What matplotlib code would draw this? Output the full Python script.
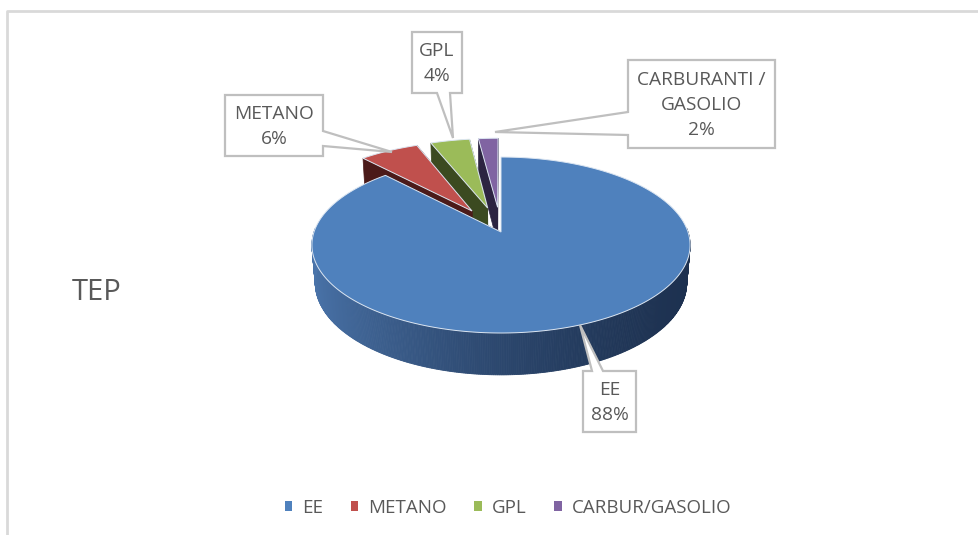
import numpy as np
import matplotlib
matplotlib.use("Agg")
import matplotlib.pyplot as plt
from matplotlib.patches import Polygon, Patch

# dati
labels = ["EE", "METANO", "GPL", "CARBUR/GASOLIO"]
label_names = ["EE", "METANO", "GPL", "CARBURANTI /\nGASOLIO"]
values = [88, 6, 4, 2]
explode = [0.0, 0.3, 0.3, 0.3]
top_colors = ["#4f81bd", "#c0504d", "#9bbb59", "#8064a2"]
side_colors = ["#1d3150", "#4b1a19", "#3b4a20", "#2c2441"]

plt.rcParams['font.family'] = ['Open Sans', 'DejaVu Sans']
txt_col = "#595959"

W, H = 979, 535
fig = plt.figure(figsize=(W / 100, H / 100), dpi=100)
ax = fig.add_axes([0, 0, 1, 1])
ax.set_xlim(0, W)
ax.set_ylim(H, 0)
ax.axis("off")

# cornice
ax.plot([7, 7, W + 5], [H + 5, 11, 11], color="#d9d9d9", lw=2, solid_capstyle="butt")

# proiezione prospettica della torta 3D
cx, cy, S = 501, 232, 187
phi = np.radians(27.4)
D = 6.0
h = 0.23
sphi, cphi = np.sin(phi), np.cos(phi)


def proj(X, Y, Z):
    X = np.asarray(X, float)
    Y = np.asarray(Y, float)
    depth = D + Y * cphi - Z * sphi
    sx = cx + S * X * D / depth
    sy = cy - S * (Y * sphi + Z * cphi) * D / depth
    return np.column_stack([np.atleast_1d(sx), np.atleast_1d(sy)])


total = float(sum(values))
bounds = np.concatenate([[0], np.cumsum(values)]) / total * 360.0
slices = []
for i in range(len(values)):
    t0, t1 = bounds[i], bounds[i + 1]
    tm = np.radians((t0 + t1) / 2)
    ox, oy = explode[i] * np.sin(tm), explode[i] * np.cos(tm)
    slices.append((i, t0, t1, ox, oy))

# disegna dal fondo verso il davanti
order = sorted(slices, key=lambda s: -(s[4] + np.cos(np.radians((s[1] + s[2]) / 2)) * 0.5))
light_side = np.array(matplotlib.colors.to_rgb("#4a74aa"))
for i, t0, t1, ox, oy in order:
    th = np.radians(np.linspace(t0, t1, max(int((t1 - t0) * 2), 4)))
    xs, ys = ox + np.sin(th), oy + np.cos(th)
    top = proj(xs, ys, 0)
    bot = proj(xs, ys, -h)
    apex_t = proj([ox], [oy], 0)[0]
    apex_b = proj([ox], [oy], -h)[0]
    sc = side_colors[i]
    # pareti radiali (prima quella nascosta)
    for k in (-1, 0):
        q = [apex_t, top[k], bot[k], apex_b]
        ax.add_patch(Polygon(q, closed=True, fc=sc, ec=sc, lw=0.5, zorder=2))
    # parete curva frontale
    dark = np.array(matplotlib.colors.to_rgb(sc))
    for j in range(len(th) - 1):
        tmid = (th[j] + th[j + 1]) / 2
        if np.cos(tmid) > 0.05:
            continue
        if i == 0:
            f = ((1 - np.sin(tmid)) / 2) ** 1.6
            col = dark * (1 - f) + light_side * f
        else:
            col = dark
        q = [top[j], top[j + 1], bot[j + 1], bot[j]]
        ax.add_patch(Polygon(q, closed=True, fc=col, ec=col, lw=0.6, zorder=2))
    # faccia superiore
    poly = np.vstack([apex_t, top])
    ax.add_patch(Polygon(poly, closed=True, fc=top_colors[i], ec="#dce6f2", lw=0.7, zorder=2))

# etichette dati con richiamo
pct = [f"{round(v / total * 100)}%" for v in values]
callouts = [
    [(583, 371), (592, 371), (580, 325), (603, 371), (636, 371), (636, 432), (583, 432)],
    [(225, 95), (323, 95), (323, 131), (392, 152), (323, 146), (323, 156), (225, 156)],
    [(412, 32), (462, 32), (462, 93), (450, 93), (453, 138), (437, 93), (412, 93)],
    [(628, 60), (775, 60), (775, 148), (628, 148), (628, 135), (495, 132), (628, 112)],
]
boxes = [(583, 371, 636, 432), (225, 95, 323, 156), (412, 32, 462, 93), (628, 60, 775, 148)]
for i in range(len(values)):
    ax.add_patch(Polygon(callouts[i], closed=True, fc="white", ec="#bfbfbf", lw=1.6, zorder=4))
    x0, y0, x1, y1 = boxes[i]
    ax.text((x0 + x1) / 2, (y0 + y1) / 2 + 1, label_names[i] + "\n" + pct[i],
            ha="center", va="center", fontsize=13.8, color=txt_col, linespacing=1.5, zorder=5)

# titolo
ax.text(72, 293, "TEP", ha="left", va="center", fontsize=21, color=txt_col)

# legenda
handles = [Patch(fc=c, ec="none") for c in top_colors]
ax.legend(handles, labels, loc="center", bbox_to_anchor=(0.519, 0.051), ncol=4, frameon=False,
          fontsize=13.5, labelcolor=txt_col, handlelength=0.4, handleheight=0.4,
          handletextpad=0.55, columnspacing=1.45)

fig.savefig("out.png", dpi=100)
